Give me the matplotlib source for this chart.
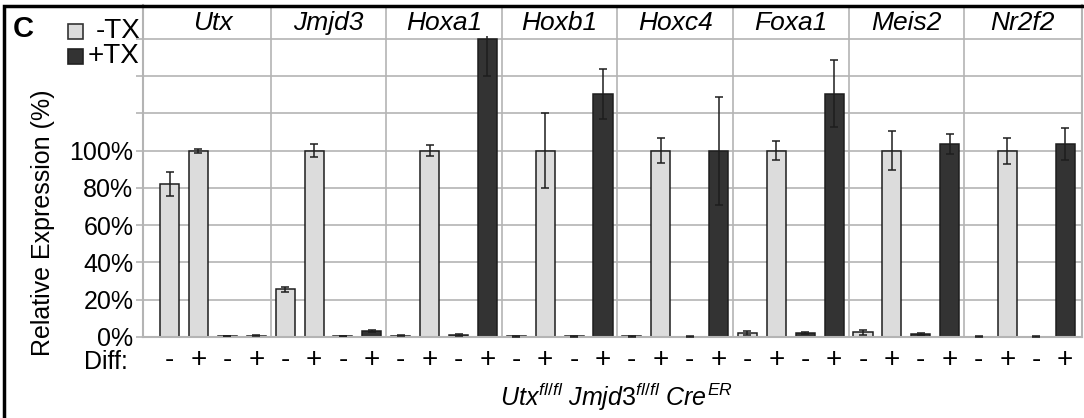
import matplotlib
matplotlib.use('Agg')
import matplotlib.pyplot as plt
from matplotlib.patches import Rectangle
import numpy as np

plt.rcParams['font.family'] = ['Liberation Sans', 'DejaVu Sans']
plt.rcParams['mathtext.fontset'] = 'custom'
plt.rcParams['mathtext.it'] = 'Liberation Sans:italic'
plt.rcParams['mathtext.rm'] = 'Liberation Sans'

genes = ['Utx', 'Jmjd3', 'Hoxa1', 'Hoxb1', 'Hoxc4', 'Foxa1', 'Meis2', 'Nr2f2']

# relative expression (%), order inside each gene: -TX Diff-, -TX Diff+, +TX Diff-, +TX Diff+
neg_tx_undiff = [82, 25.5, 0.7, 0.3, 0.3, 2.1, 2.5, 0.2]
neg_tx_diff = [100, 100, 100, 100, 100, 100, 100, 100]
pos_tx_undiff = [0.5, 0.5, 1.1, 0.3, 0.2, 2.0, 1.6, 0.2]
pos_tx_diff = [0.8, 3.1, 160, 130.5, 100, 130.5, 103.6, 103.6]

neg_undiff_err = [6.5, 1.5, 0.2, 0.1, 0.1, 1.0, 1.5, 0.1]
neg_diff_err = [1.0, 3.5, 3.0, 20, 6.7, 5.0, 10.5, 7.0]
pos_undiff_err = [0.2, 0.2, 0.5, 0.1, 0.1, 0.5, 0.5, 0.1]
pos_diff_err = [0.3, 0.5, 20, 13.5, 29, 18, 5.3, 8.5]

diff_signs = ['-', '+', '-', '+']

y_axis_max = 160  # value axis ends here, the row above holds the gene names

light = '#dcdcdc'
dark = '#333333'
grid_col = '#b4b4b4'

fig = plt.figure(figsize=(10.84, 4.18), dpi=100)
ax = fig.add_axes([143 / 1084, (418 - 337) / 418, (1082 - 143) / 1084, 332 / 418])

n = len(genes)
values, errs, colors = [], [], []
for g in range(n):
    values += [neg_tx_undiff[g], neg_tx_diff[g], pos_tx_undiff[g], pos_tx_diff[g]]
    errs += [neg_undiff_err[g], neg_diff_err[g], pos_undiff_err[g], pos_diff_err[g]]
    colors += [light, light, dark, dark]
x = np.arange(len(values))

ymax = 332 / 1.863
ax.set_ylim(0, ymax)
ax.set_xlim(-0.92, 31.58)

# grid and gene separators
for yv in range(0, y_axis_max + 1, 20):
    ax.axhline(yv, color=grid_col, lw=1.2, zorder=0)
for b in np.arange(3.5, 4 * n - 1, 4):
    ax.axvline(b, color=grid_col, lw=1.2, zorder=0)

clip = Rectangle((-1, -1), 40, y_axis_max + 2.5, transform=ax.transData)
bars = ax.bar(x, values, width=0.66, color=colors, edgecolor='#1e1e1e', linewidth=1.1, zorder=2)
for p in bars:
    p.set_clip_path(clip)
eb = ax.errorbar(x, values, yerr=errs, fmt='none', ecolor='#1e1e1e', elinewidth=1.1,
                 capsize=3, capthick=1.1, zorder=3)
for part in eb.lines[1] + eb.lines[2]:
    part.set_clip_path(clip)

for g, name in enumerate(genes):
    ax.text(4 * g + 1.5, 168.5, name, style='italic', fontsize=19,
            ha='center', va='center')

ax.set_yticks(range(0, y_axis_max + 1, 20))
ax.set_yticklabels([f'{v}%' if v <= 100 else '' for v in range(0, y_axis_max + 1, 20)], fontsize=18)
ax.tick_params(axis='y', length=5, color=grid_col, width=1.2, pad=2)
ax.set_xticks(x)
ax.set_xticklabels(diff_signs * n, fontsize=20)
ax.tick_params(axis='x', length=0, pad=7)

ax.spines['top'].set_visible(False)
for s in ['left', 'right', 'bottom']:
    ax.spines[s].set_color(grid_col)
    ax.spines[s].set_linewidth(1.5)

ax.set_ylabel('Relative Expression (%)', fontsize=18)
ax.yaxis.set_label_coords(-0.094, 0.343)

fig.text(128 / 1084, 1 - 362 / 418, 'Diff:', fontsize=18, ha='right', va='center')
fig.text(616 / 1084, 1 - 397 / 418,
         r'$\mathit{Utx}^{fl/fl}\ \mathit{Jmjd3}^{fl/fl}\ \mathit{Cre}^{ER}$',
         fontsize=18, ha='center', va='center')

# panel letter and legend
fig.text(13 / 1084, 1 - 29 / 418, 'C', fontsize=21, fontweight='bold', ha='left', va='center')
fig.patches.append(Rectangle((68 / 1084, 1 - 39 / 418), 15 / 1084, 15 / 418,
                             transform=fig.transFigure, facecolor=light,
                             edgecolor='#333333', lw=1.2))
fig.patches.append(Rectangle((68 / 1084, 1 - 64 / 418), 15 / 1084, 15 / 418,
                             transform=fig.transFigure, facecolor=dark,
                             edgecolor='#222222', lw=1.2))
fig.text(96 / 1084, 1 - 31 / 418, '-TX', fontsize=20, ha='left', va='center')
fig.text(88 / 1084, 1 - 56 / 418, '+TX', fontsize=20, ha='left', va='center')

# outer frame (only top and left edges fall inside the picture)
fig.patches.append(Rectangle((4 / 1084, -0.1), 1.2, 1.1 - 6 / 418,
                             transform=fig.transFigure, fill=False,
                             edgecolor='black', lw=2.5))

fig.savefig('out.png', dpi=100)
